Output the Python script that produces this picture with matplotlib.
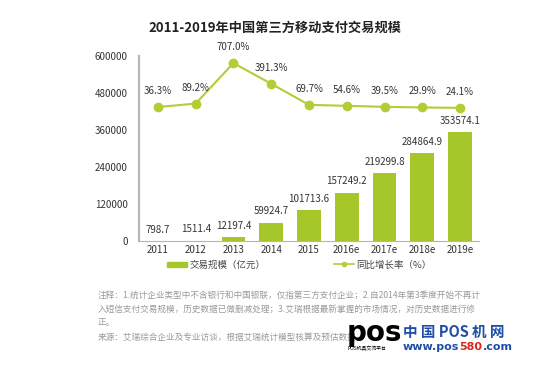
import numpy as np
import matplotlib.pyplot as plt
from matplotlib.lines import Line2D
from matplotlib.patches import Patch
from matplotlib.transforms import offset_copy

plt.rcParams['font.family'] = ['Noto Sans CJK SC', 'DejaVu Sans']

years = ["2011", "2012", "2013", "2014", "2015", "2016e", "2017e", "2018e", "2019e"]
volume = [798.7, 1511.4, 12197.4, 59924.7, 101713.6, 157249.2, 219299.8, 284864.9, 353574.1]
growth = [36.3, 89.2, 707.0, 391.3, 69.7, 54.6, 39.5, 29.9, 24.1]
yticks = [0, 120000, 240000, 360000, 480000, 600000]

bar_color = "#a5c72a"
line_color = "#b2cd35"
text_color = "#333333"
W, H = 550, 365

fig = plt.figure(figsize=(5.5, 3.65), dpi=100)
ax = fig.add_axes([139/W, 1-241/H, 340/W, 185/H])
x = np.arange(len(years))

ax.bar(x, volume, width=0.63, color=bar_color)
for xi, v in zip(x, volume):
    ax.text(xi, v + 36000, f"{v:.1f}", ha="center", va="center", fontsize=7, color=text_color)

ax.set_xlim(-0.5, len(years) - 0.5)
ax.set_ylim(0, 600000)
ax.set_yticks(yticks)
ax.set_yticklabels([str(t) for t in yticks], fontsize=7, color=text_color)
ax.set_xticks(x)
ax.set_xticklabels(years, fontsize=7, color=text_color)
ax.tick_params(axis="y", length=0, pad=8)
ax.tick_params(axis="x", length=0, pad=3)
for s in ["top", "right"]:
    ax.spines[s].set_visible(False)
ax.spines["left"].set_color("#b5b5b5")
ax.spines["left"].set_linewidth(1.5)
ax.spines["bottom"].set_color("#b5b5b5")

ax2 = ax.twinx()
ax2.plot(x, growth, color=line_color, lw=1.5, marker="o", markersize=6)
for xi, g in zip(x, growth):
    ax2.text(xi, g + 245, f"{g:.1f}%", ha="center", va="center", fontsize=7, color=text_color)
ax2.set_ylim(-2007, 815)
ax2.axis("off")

fig.text(0.5, 1-28/H, "2011-2019年中国第三方移动支付交易规模", ha="center", va="center",
         fontsize=9.5, fontweight="bold", color="#222222")

fig.legend([Patch(color=bar_color)], ["交易规模（亿元）"], loc="center left",
           bbox_to_anchor=(158/W, 1-265/H), frameon=False, fontsize=6.8,
           handlelength=2.2, handleheight=0.5, handletextpad=0.2, labelcolor="#444444")
fig.legend([Line2D([], [], color=line_color, marker="o", markersize=3, lw=1.2)], ["同比增长率（%）"],
           loc="center left", bbox_to_anchor=(325/W, 1-265/H), frameon=False, fontsize=6.8,
           handlelength=2.2, handletextpad=0.2, labelcolor="#444444")

notes = ["注释：1.统计企业类型中不含银行和中国银联，仅指第三方支付企业；2.自2014年第3季度开始不再计",
         "入短信支付交易规模，历史数据已做删减处理；3.艾瑞根据最新掌握的市场情况，对历史数据进行修",
         "正。",
         "来源：艾瑞综合企业及专业访谈，根据艾瑞统计模型核算及预估数据。"]
for i, line in enumerate(notes):
    fig.text(98/W, 1-(295+14*i)/H, line, fontsize=6.2, color="#9a9a9a", va="center")

# watermark logo
fig.text(347/W, 1-333/H, "pos", fontsize=20, fontweight="bold", color="black", va="center",
         family="DejaVu Sans")
fig.text(347/W, 1-349/H, "POS机具交流平台", fontsize=3.5, color="black", va="center")
fig.text(403/W, 1-332/H, "中 国 POS 机 网", fontsize=10.5, fontweight="bold", color="#1f4ea8",
         va="center")

# url in three colours, each piece placed right after the previous one
fig.canvas.draw()
renderer = fig.canvas.get_renderer()
xpos = 403
for part, col in [("www.pos", "#1f4ea8"), ("580", "#d9261c"), (".com", "#1f4ea8")]:
    t = fig.text(xpos/W, 1-347/H, part, fontsize=8, fontweight="bold", color=col,
                 va="center", family="DejaVu Sans")
    xpos += t.get_window_extent(renderer).width

fig.savefig("out.png", dpi=100, facecolor="white")
